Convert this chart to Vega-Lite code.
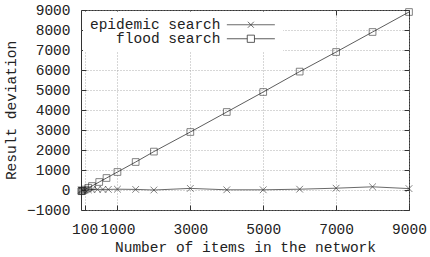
{
  "$schema": "https://vega.github.io/schema/vega-lite/v6.json",
  "width": 328,
  "height": 200,
  "autosize": {"type": "none"},
  "padding": {"left": 81, "top": 10, "right": 21, "bottom": 47},
  "background": "white",
  "config": {
    "view": {"stroke": "#333", "strokeWidth": 1},
    "font": "Liberation Mono",
    "axis": {
      "domain": false,
      "tickColor": "#333",
      "tickSize": -5,
      "tickWidth": 1,
      "gridColor": "#999",
      "gridDash": [1, 2],
      "gridWidth": 0.8,
      "labelFont": "Liberation Mono",
      "labelFontSize": 14.5,
      "labelColor": "#222",
      "labelOverlap": false,
      "labelFlush": false,
      "format": "d",
      "titleFont": "Liberation Mono",
      "titleFontSize": 14.5,
      "titleFontWeight": "normal",
      "titleColor": "#222"
    }
  },
  "data": {
    "values": [
      {"series": "epidemic search", "n": 10, "dev": 0},
      {"series": "epidemic search", "n": 20, "dev": 0},
      {"series": "epidemic search", "n": 50, "dev": 0},
      {"series": "epidemic search", "n": 100, "dev": 0},
      {"series": "epidemic search", "n": 200, "dev": 10},
      {"series": "epidemic search", "n": 300, "dev": 20},
      {"series": "epidemic search", "n": 450, "dev": 30},
      {"series": "epidemic search", "n": 600, "dev": 30},
      {"series": "epidemic search", "n": 750, "dev": 30},
      {"series": "epidemic search", "n": 1000, "dev": 40},
      {"series": "epidemic search", "n": 1500, "dev": 30},
      {"series": "epidemic search", "n": 2000, "dev": 0},
      {"series": "epidemic search", "n": 3000, "dev": 80},
      {"series": "epidemic search", "n": 4000, "dev": 10},
      {"series": "epidemic search", "n": 5000, "dev": 10},
      {"series": "epidemic search", "n": 6000, "dev": 40},
      {"series": "epidemic search", "n": 7000, "dev": 90},
      {"series": "epidemic search", "n": 8000, "dev": 160},
      {"series": "epidemic search", "n": 9000, "dev": 70},
      {"series": "flood search", "n": 10, "dev": -60},
      {"series": "flood search", "n": 20, "dev": -50},
      {"series": "flood search", "n": 50, "dev": -30},
      {"series": "flood search", "n": 100, "dev": 20},
      {"series": "flood search", "n": 200, "dev": 110},
      {"series": "flood search", "n": 300, "dev": 200},
      {"series": "flood search", "n": 500, "dev": 400},
      {"series": "flood search", "n": 700, "dev": 600},
      {"series": "flood search", "n": 1000, "dev": 900},
      {"series": "flood search", "n": 1500, "dev": 1400},
      {"series": "flood search", "n": 2000, "dev": 1920},
      {"series": "flood search", "n": 3000, "dev": 2900},
      {"series": "flood search", "n": 4000, "dev": 3900},
      {"series": "flood search", "n": 5000, "dev": 4900},
      {"series": "flood search", "n": 6000, "dev": 5920},
      {"series": "flood search", "n": 7000, "dev": 6900},
      {"series": "flood search", "n": 8000, "dev": 7900},
      {"series": "flood search", "n": 9000, "dev": 8900}
    ]
  },
  "layer": [
    {
      "mark": {"type": "line", "strokeWidth": 0.8, "clip": true},
      "encoding": {
        "x": {
          "field": "n", "type": "quantitative",
          "scale": {"domain": [0, 9000], "nice": false, "zero": false},
          "axis": {"orient": "bottom", "values": [100, 1000, 3000, 5000, 7000, 9000], "title": "Number of items in the network", "labelPadding": 17, "titlePadding": 5}
        },
        "y": {
          "field": "dev", "type": "quantitative",
          "scale": {"domain": [-1000, 9000], "nice": false, "zero": false},
          "axis": {"orient": "left", "values": [-1000, 0, 1000, 2000, 3000, 4000, 5000, 6000, 7000, 8000, 9000], "title": "Result deviation", "labelPadding": 16, "titlePadding": 8}
        },
        "color": {
          "field": "series", "type": "nominal",
          "scale": {"domain": ["epidemic search", "flood search"], "range": ["#444", "#333"]},
          "legend": {
            "orient": "none", "legendX": 2, "legendY": 1.5, "title": null,
            "fillColor": "white", "padding": 6, "strokeColor": null,
            "symbolSize": 4, "symbolStrokeWidth": 0.8,
            "labelAlign": "right", "labelOffset": 117, "labelLimit": 0,
            "labelFont": "Liberation Mono", "labelFontSize": 14.5, "labelColor": "#222",
            "rowPadding": -2.5,
            "encode": {
              "symbols": {
                "update": {
                  "shape": {"signal": "datum.value === 'epidemic search' ? 'M130.6,0L178.6,0M151.6,-3L157.6,3M151.6,3L157.6,-3' : 'M130.6,0L151,0M158.2,0L178.6,0M151,-3.6L158.2,-3.6L158.2,3.6L151,3.6Z'"},
                  "fill": {"value": "transparent"},
                  "stroke": {"value": "#333"}
                }
              }
            }
          }
        }
      }
    },
    {
      "mark": {"type": "point", "filled": false, "strokeWidth": 0.8, "size": 45, "color": "#222"},
      "encoding": {
        "x": {
          "field": "n", "type": "quantitative",
          "axis": {"orient": "top", "values": [100, 1000, 3000, 5000, 7000, 9000], "labels": false, "grid": false, "title": null}
        },
        "y": {
          "field": "dev", "type": "quantitative",
          "axis": {"orient": "right", "values": [-1000, 0, 1000, 2000, 3000, 4000, 5000, 6000, 7000, 8000, 9000], "labels": false, "grid": false, "title": null}
        },
        "shape": {
          "condition": {"test": "datum.series === 'flood search'", "value": "M-1,-1L1,-1L1,1L-1,1Z"},
          "value": "M-1,-1L1,1M-1,1L1,-1"
        }
      }
    }
  ],
  "resolve": {"axis": {"x": "independent", "y": "independent"}}
}
